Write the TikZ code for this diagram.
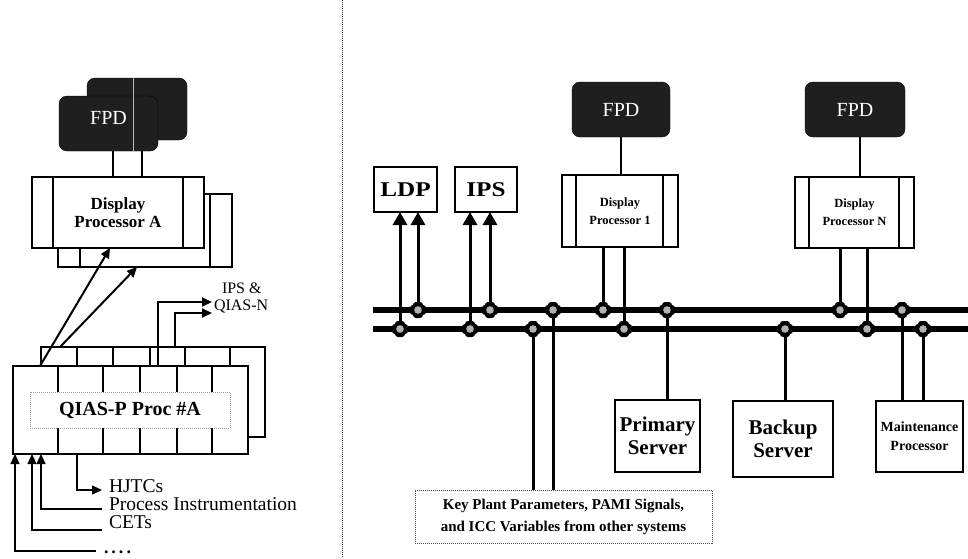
\documentclass[tikz,border=0pt]{standalone}
\usepackage{fontspec}
\setmainfont{Liberation Serif}
\newfontfamily\widebold[FakeStretch=1.2]{Liberation Serif}
\usetikzlibrary{arrows.meta,calc}

\tikzset{
  pics/tapblob/.style={code={
    \fill[black, rounded corners=3pt] (-8,-5) rectangle (8,5);
    \fill[black, rounded corners=3pt] (-5,-8) rectangle (5,8);
    \fill[gray!60] (0,0) circle (3.8);
  }}
}

\begin{document}
\begin{tikzpicture}[x=1pt,y=-1pt,
  every node/.style={inner sep=0pt, outer sep=0pt},
  box/.style={rectangle, draw=black, line width=1.1pt, fill=white},
  fpd/.style={rectangle, fill=black!88, draw=black, rounded corners=8pt,
              text=white, font=\fontsize{20}{22}\selectfont},
  wire/.style={line width=1.1pt},
  wirem/.style={line width=1.4pt},
  wirethick/.style={line width=2pt},
  conn/.style={line width=3pt},
  bus/.style={line width=6.5pt},
  tipS/.style={-{Triangle[length=10pt,width=9pt]}},
  tipL/.style={-{Triangle[length=13pt,width=14pt]}},
  sepline/.style={line width=1pt, dash pattern=on 1pt off 1pt, black!80},
  keybox/.style={rectangle, draw=black!75, line width=0.8pt, dash pattern=on 1pt off 1pt, fill=white},
  dpfont/.style={font=\bfseries\fontsize{17}{18}\selectfont, align=center},
  smalldp/.style={font=\bfseries\fontsize{12.5}{18}\selectfont, align=center},
  srvfont/.style={font=\bfseries\fontsize{21}{23}\selectfont, align=center},
  lbl/.style={font=\fontsize{19.5}{19.5}\selectfont, anchor=mid west},
  outlbl/.style={font=\fontsize{16}{16}\selectfont, anchor=mid west}
]
\useasboundingbox (0,0) rectangle (968,558);

% ---------------- divider between the two views ----------------
\coordinate (sepTop) at (342,0);
\coordinate (sepBot) at (342,558);
\draw[sepline] (sepTop) -- (sepBot);

% ================= QIAS-P channel =================
% stacked flat panel displays
\node[fpd, minimum width=100pt, minimum height=62pt] (fpdB) at (137,109) {};
\node[fpd, minimum width=99pt, minimum height=55pt] (fpdA) at (108.5,123.5) {};
\node[text=white, font=\fontsize{20}{22}\selectfont] (fpdAlbl) at ($(fpdA.center)+(0,-6)$) {FPD};
\draw[gray!55, line width=0.6pt] ([xshift=-4pt]fpdB.north) -- ++(0,73);

% stacked display processors
\node[box, minimum width=174pt, minimum height=73pt] (dpB) at (145,230.5) {};
\draw[wire] ([xshift=22pt]dpB.north west) -- ([xshift=22pt]dpB.south west);
\draw[wire] ([xshift=-22pt]dpB.north east) -- ([xshift=-22pt]dpB.south east);
\node[box, dpfont, minimum width=172pt, minimum height=71pt] (dpA) at (118,212.5) {Display\\[0pt]Processor A};
\draw[wire] ([xshift=21pt]dpA.north west) -- ([xshift=21pt]dpA.south west);
\draw[wire] ([xshift=-21pt]dpA.north east) -- ([xshift=-21pt]dpA.south east);

% display cables
\coordinate (fa1) at ([xshift=4.5pt]fpdA.south);
\coordinate (fa2) at ([xshift=33.5pt]fpdA.south);
\draw[wire] (fa1) -- (fa1 |- dpA.north);
\draw[wire] (fa2) -- (fa2 |- dpA.north);

% stacked QIAS-P processor cabinets
\node[box, minimum width=224pt, minimum height=90pt] (qB) at (153,392) {};
\foreach \dx in {36,72,109,144,189}{
  \draw[wire] ([xshift=\dx pt]qB.north west) -- ++(0,19);
}
\node[box, minimum width=235pt, minimum height=88pt] (qA) at (130.5,410) {};
\node[rectangle, draw=gray!75, line width=0.8pt, dash pattern=on 1pt off 1pt,
      minimum width=200pt, minimum height=36pt,
      font=\bfseries\fontsize{20}{22}\selectfont] (qlbl) at (130,410) {QIAS-P Proc \#A};
\foreach \dx in {45,90,127,164,199}{
  \draw[wire] ([xshift=\dx pt]qA.north west) -- ++(0,26);
  \draw[wire] ([xshift=\dx pt]qA.south west) -- ++(0,-26);
}

% links up to the display processors
\draw[wirethick, tipS] ([xshift=27pt]qA.north west) -- ([xshift=78pt]dpA.south west);
\draw[wirethick, tipS] ([xshift=19pt]qB.north west) -- ([xshift=79pt]dpB.south west);

% outputs to IPS & QIAS-N
\coordinate (outA) at (212,302);
\coordinate (outB) at (212,313);
\draw[wirethick, tipS] ([xshift=27.5pt]qA.north) |- (outA);
\draw[wirethick, tipS] ([xshift=22pt]qB.north) |- (outB);
\node[outlbl] (ipsAmp) at (222,291) {IPS \&};
\node[outlbl] (qiasN) at (214,308) {QIAS-N};

% field inputs and HJTC output
\coordinate (outH) at (102,490);
\coordinate (inP) at (102,509);
\coordinate (inC) at (102,530);
\coordinate (inD) at (96,551);
\draw[wirem, tipS] ([xshift=64pt]qA.south west) |- (outH);
\draw[wire, tipS] (inP) -| ([xshift=28pt]qA.south west);
\draw[wire, tipS] (inC) -| ([xshift=19pt]qA.south west);
\draw[wire, tipS] (inD) -| ([xshift=2pt]qA.south west);
\node[lbl] (lblH) at (109,490) {HJTCs};
\node[lbl] (lblP) at (109,508) {Process Instrumentation};
\node[lbl] (lblC) at (109,526) {CETs};
\node[font=\bfseries\fontsize{18}{18}\selectfont, anchor=base west] (lblD) at (104,553) {.\,.\,.\,.};

% ================= plant network =================
% stand-alone systems
\node[box, minimum width=63pt, minimum height=45pt, font=\widebold\bfseries\fontsize{21}{22}\selectfont] (ldp) at (405.5,189.5) {LDP};
\node[box, minimum width=62pt, minimum height=45pt, font=\widebold\bfseries\fontsize{21}{22}\selectfont] (ips) at (486,189.5) {IPS};

% display channels
\node[fpd, minimum width=98pt, minimum height=55pt] (fpd1) at (621,109.5) {FPD};
\node[box, smalldp, minimum width=116pt, minimum height=72pt] (dp1) at (620,211) {Display\\Processor 1};
\draw[wire] ([xshift=14pt]dp1.north west) -- ([xshift=14pt]dp1.south west);
\draw[wire] ([xshift=-15pt]dp1.north east) -- ([xshift=-15pt]dp1.south east);
\draw[wire] (fpd1.south) -- (fpd1.south |- dp1.north);

\node[fpd, minimum width=100pt, minimum height=55pt] (fpdN) at (855,109.5) {FPD};
\node[box, smalldp, minimum width=119pt, minimum height=71pt] (dpN) at (854.5,212.5) {Display\\Processor N};
\draw[wire] ([xshift=14pt]dpN.north west) -- ([xshift=14pt]dpN.south west);
\draw[wire] ([xshift=-15pt]dpN.north east) -- ([xshift=-15pt]dpN.south east);
\coordinate (fn1) at ([xshift=5pt]fpdN.south);
\draw[wire] (fn1) -- (fn1 |- dpN.north);

% servers and maintenance
\node[box, srvfont, minimum width=85pt, minimum height=72pt] (prim) at (657.5,436) {Primary\\Server};
\node[box, srvfont, minimum width=100pt, minimum height=76pt] (bkup) at (783,439) {Backup\\Server};
\node[box, font=\bfseries\fontsize{14}{19}\selectfont, align=center, minimum width=87pt, minimum height=71pt] (mnt) at (919.5,436.5) {Maintenance\\Processor};

% external plant data
\node[keybox, font=\bfseries\fontsize{15}{22}\selectfont, align=center, minimum width=297pt, minimum height=53pt] (key) at (563.5,516.5)
  {Key Plant Parameters, PAMI Signals,\\and ICC Variables from other systems};

% redundant data highways
\coordinate (ubW) at (373,310); \coordinate (ubE) at (968,310);
\coordinate (lbW) at (373,329); \coordinate (lbE) at (968,329);

% taps on the upper highway
\coordinate (u1) at (418,310);
\coordinate (u2) at (490,310);
\coordinate (u3) at (553,310);
\coordinate (u4) at (603,310);
\coordinate (u5) at (667,310);
\coordinate (u6) at (840,310);
\coordinate (u7) at (902,310);
% taps on the lower highway
\coordinate (l1) at (400,329);
\coordinate (l2) at (470,329);
\coordinate (l3) at (533,329);
\coordinate (l4) at (624,329);
\coordinate (l5) at (785,329);
\coordinate (l6) at (867,329);
\coordinate (l7) at (923,329);

% drops from the highways
\draw[conn, tipL] (l1) -- (l1 |- ldp.south);
\draw[conn, tipL] (u1) -- (u1 |- ldp.south);
\draw[conn, tipL] (l2) -- (l2 |- ips.south);
\draw[conn, tipL] (u2) -- (u2 |- ips.south);
\draw[conn] (u3) -- (u3 |- key.north);
\draw[conn] (l3) -- (l3 |- key.north);
\draw[conn] (u4 |- dp1.south) -- (u4);
\draw[conn] (l4 |- dp1.south) -- (l4);
\draw[conn] (u5) -- (u5 |- prim.north);
\draw[conn] (l5) -- (l5 |- bkup.north);
\draw[conn] (u6 |- dpN.south) -- (u6);
\draw[conn] (l6 |- dpN.south) -- (l6);
\draw[conn] (u7) -- (u7 |- mnt.north);
\draw[conn] (l7) -- (l7 |- mnt.north);

\draw[bus] (ubW) -- (ubE);
\draw[bus] (lbW) -- (lbE);

% network interface blobs
\foreach \t in {u1,u2,u3,u4,u5,u6,u7,l1,l2,l3,l4,l5,l6,l7}{
  \pic (blob\t) at (\t) {tapblob};
}
\end{tikzpicture}
\end{document}
